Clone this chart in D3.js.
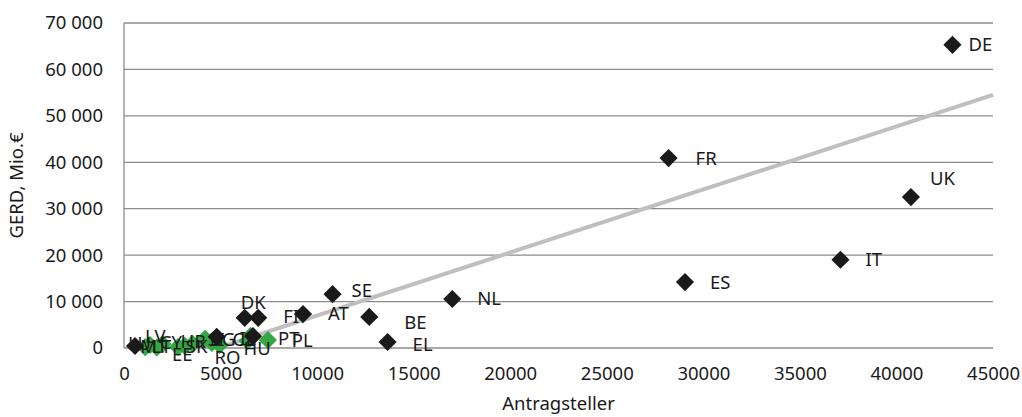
<!DOCTYPE html>
<html>
<head>
<meta charset="utf-8">
<script src="https://cdn.jsdelivr.net/npm/d3@7"></script>
<style>
  html, body { margin: 0; padding: 0; background: #fff; }
  svg { display: block; }
  text { font-family: "Noto Sans", "Open Sans", sans-serif; fill: #1a1a1a; }
</style>
</head>
<body>
<div id="chart"></div>
<script>
// ---- data ----
const countries  = ["DE","FR","UK","IT","ES","NL","SE","BE","AT","EL","FI","DK","PT","IE","LU",
                    "PL","HU","CZ","RO","BG","SI","HR","SK","EE","CY","LT","LV","MT"];
const applicants = [42900,28200,40750,37100,29050,17000,10800,12700,9270,13650,6950,6250,6680,4800,570,
                    7450,6400,6550,4950,4550,4200,3550,3150,2800,1700,2000,1350,1100];
const gerd       = [65300,40900,32500,19000,14200,10550,11600,6700,7300,1300,6500,6500,2550,2400,430,
                    1700,1500,2600,650,1100,2000,900,450,200,100,850,650,200];
const group      = ["EU15","EU15","EU15","EU15","EU15","EU15","EU15","EU15","EU15","EU15","EU15","EU15","EU15","EU15","EU15",
                    "EU13","EU13","EU13","EU13","EU13","EU13","EU13","EU13","EU13","EU13","EU13","EU13","EU13"];
const trendX = [4850, 45000];
const trendY = [0, 54520];
const xTicks = [0,5000,10000,15000,20000,25000,30000,35000,40000,45000];
const yTicks = [0,10000,20000,30000,40000,50000,60000,70000];
const xTitle = "Antragsteller";
const yTitle = "GERD, Mio.€";

// ---- layout (label offsets in px from marker centre) ----
const labelOffset = {
  DE:[16,0], FR:[27,0], UK:[19,-19], IT:[25,0], ES:[25,0], NL:[25,0], SE:[19,-4],
  BE:[35,6], AT:[25,-1], EL:[25,3], FI:[25,-1], DK:[-4,-15], PT:[25,2], IE:[23,2], LU:[-7,-2],
  PL:[24,0], HU:[-4,7], CZ:[-18,4], RO:[-5,13], BG:[-2,-3], SI:[3,1], HR:[-12,-2],
  SK:[1,1], EE:[-6,7], CY:[3,-5], LT:[-11,2], LV:[-5,-8], MT:[-5,-1]
};

const W = 1022, H = 417;
const M = {left:124, right:29, top:23, bottom:69};
const svg = d3.select("#chart").append("svg").attr("width", W).attr("height", H);

const x = d3.scaleLinear().domain([0,45000]).range([M.left, W - M.right]);
const y = d3.scaleLinear().domain([0,70000]).range([H - M.bottom, M.top]);

const fmtY = v => d3.format(",")(v).replace(/,/g, " ");
const gridColor = "#8c8c8c";
const FS = "18.5px";

// gridlines + y axis labels
const yAxis = d3.axisLeft(y).tickValues(yTicks).tickSize(0).tickPadding(21).tickFormat(fmtY);
const gy = svg.append("g").attr("transform", `translate(${M.left},0)`).call(yAxis);
gy.select(".domain").remove();
gy.selectAll("text").style("font-size",FS).style("font-family",'"Noto Sans", sans-serif').attr("fill","#1a1a1a");

svg.append("g").selectAll("line").data(yTicks).join("line")
  .attr("x1", M.left).attr("x2", W - M.right)
  .attr("y1", d => y(d)).attr("y2", d => y(d))
  .attr("stroke", gridColor).attr("stroke-width", 1.3);

svg.append("line").attr("x1", M.left).attr("x2", M.left)
  .attr("y1", y(70000)).attr("y2", y(0)).attr("stroke", gridColor).attr("stroke-width", 1.3);

// x axis labels
const xAxis = d3.axisBottom(x).tickValues(xTicks).tickSize(0).tickPadding(19).tickFormat(d3.format("d"));
const gx = svg.append("g").attr("transform", `translate(0,${y(0)})`).call(xAxis);
gx.select(".domain").remove();
gx.selectAll("text").style("font-size",FS).style("font-family",'"Noto Sans", sans-serif').attr("fill","#1a1a1a");

// titles
svg.append("text").attr("x", (M.left + W - M.right)/2).attr("y", 410)
  .attr("text-anchor","middle").style("font-size",FS).text(xTitle);
svg.append("text").attr("transform", `translate(23,${(y(0)+y(70000))/2}) rotate(-90)`)
  .attr("text-anchor","middle").style("font-size",FS).text(yTitle);

// trend line
const pts = trendX.map((v,i) => [v, trendY[i]]);
svg.append("path").datum(pts)
  .attr("d", d3.line().x(d => x(d[0])).y(d => y(d[1])))
  .attr("stroke", "#bfbfbf").attr("stroke-width", 4).attr("fill","none");

// points
const data = countries.map((c,i) => ({c, x:applicants[i], y:gerd[i], g:group[i]}));
const sym = d3.symbol().type(d3.symbolSquare).size(165);
svg.append("g").selectAll("path").data(data.filter(d=>d.g==="EU13")).join("path")
  .attr("d", sym)
  .attr("transform", d => `translate(${x(d.x)},${y(d.y)}) rotate(45)`)
  .attr("fill", "#33a845");
svg.append("g").selectAll("path").data(data.filter(d=>d.g==="EU15")).join("path")
  .attr("d", sym)
  .attr("transform", d => `translate(${x(d.x)},${y(d.y)}) rotate(45)`)
  .attr("fill", "#1a1a1a");

// labels
svg.append("g").selectAll("text").data(data).join("text")
  .attr("x", d => x(d.x) + labelOffset[d.c][0])
  .attr("y", d => y(d.y) + labelOffset[d.c][1])
  .attr("dy", "0.35em")
  .style("font-size",FS)
  .text(d => d.c);
</script>
</body>
</html>
